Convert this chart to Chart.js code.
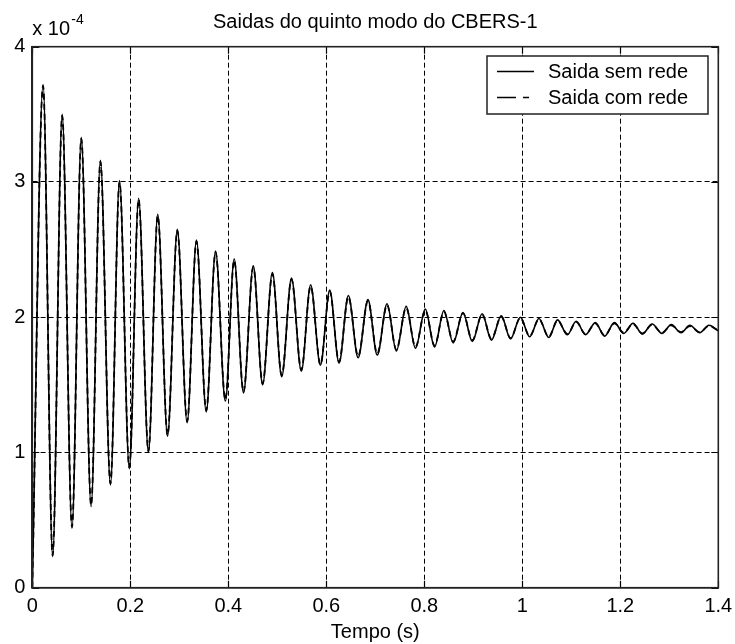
<!DOCTYPE html>
<html><head><meta charset="utf-8">
<script src="https://cdn.jsdelivr.net/npm/chart.js@4.4.1/dist/chart.umd.min.js"></script>
<style>html,body{margin:0;padding:0;background:#fff;}#wrap{width:735px;height:644px;}</style>
</head><body><div id="wrap"><canvas id="c" width="735" height="644"></canvas></div>
<script>
// Time instants (s): start, then alternating peaks and troughs, end
const tempos = [0, 0.022, 0.0415, 0.061, 0.081, 0.100, 0.120, 0.139, 0.1595, 0.178, 0.198,
  0.217, 0.237, 0.256, 0.276, 0.296, 0.316, 0.335, 0.355, 0.374, 0.394,
  0.412, 0.431, 0.451, 0.470, 0.490, 0.509, 0.529, 0.549, 0.568, 0.588,
  0.607, 0.626, 0.645, 0.665, 0.685, 0.704, 0.724, 0.743, 0.763, 0.782,
  0.802, 0.821, 0.840, 0.859, 0.879, 0.898, 0.918, 0.937, 0.957, 0.976,
  0.996, 1.015, 1.034, 1.054, 1.072, 1.092, 1.110, 1.129, 1.149, 1.168,
  1.188, 1.207, 1.226, 1.245, 1.265, 1.285, 1.304, 1.324, 1.342, 1.362,
  1.381, 1.4];
// Output values (x 10^-4)
const saidaSemRede = [0, 3.72, 0.23, 3.50, 0.44, 3.33, 0.60, 3.16, 0.76, 3.01, 0.88,
  2.88, 1.00, 2.76, 1.12, 2.65, 1.22, 2.57, 1.30, 2.49, 1.38,
  2.43, 1.44, 2.38, 1.50, 2.33, 1.56, 2.29, 1.60, 2.24, 1.645,
  2.20, 1.66, 2.16, 1.70, 2.13, 1.72, 2.10, 1.75, 2.08, 1.77,
  2.06, 1.78, 2.05, 1.81, 2.035, 1.82, 2.025, 1.83, 2.01, 1.84,
  2.00, 1.855, 1.99, 1.85, 1.98, 1.87, 1.97, 1.87, 1.96, 1.86,
  1.96, 1.88, 1.955, 1.875, 1.95, 1.88, 1.945, 1.885, 1.94, 1.885,
  1.94, 1.90];
const saidaComRede = [0, 3.71, 0.24, 3.49, 0.45, 3.32, 0.61, 3.15, 0.77, 3.00, 0.89,
  2.87, 1.01, 2.75, 1.13, 2.64, 1.23, 2.56, 1.31, 2.48, 1.39,
  2.42, 1.45, 2.37, 1.51, 2.32, 1.57, 2.28, 1.61, 2.23, 1.65,
  2.19, 1.67, 2.15, 1.71, 2.12, 1.73, 2.09, 1.76, 2.07, 1.78,
  2.05, 1.79, 2.04, 1.82, 2.03, 1.83, 2.02, 1.84, 2.005, 1.845,
  1.995, 1.86, 1.985, 1.855, 1.975, 1.875, 1.965, 1.875, 1.955, 1.865,
  1.955, 1.885, 1.95, 1.88, 1.945, 1.885, 1.94, 1.89, 1.935, 1.89,
  1.935, 1.90];
const xTickLabels = ['0', '0.2', '0.4', '0.6', '0.8', '1', '1.2', '1.4'];
const yTickLabels = ['0', '1', '2', '3', '4'];
const seriesNames = ['Saida sem rede', 'Saida com rede'];
const chartTitle = 'Saidas do quinto modo do CBERS-1';
const xTitle = 'Tempo (s)';

const FONT = 'Liberation Sans, Arial, Helvetica, sans-serif';

const framePlugin = {
  id: 'matlabFrame',
  afterDraw(chart) {
    const ctx = chart.ctx;
    const a = chart.chartArea;
    const xs = chart.scales.x, ys = chart.scales.y;
    ctx.save();
    // inward ticks
    ctx.strokeStyle = '#000';
    ctx.lineWidth = 1.2;
    ctx.setLineDash([]);
    ctx.beginPath();
    xTickLabels.forEach(l => {
      const px = Math.round(xs.getPixelForValue(parseFloat(l))) + 0.5;
      ctx.moveTo(px, a.bottom); ctx.lineTo(px, a.bottom - 7);
      ctx.moveTo(px, a.top); ctx.lineTo(px, a.top + 7);
    });
    yTickLabels.forEach(l => {
      const py = Math.round(ys.getPixelForValue(parseFloat(l))) + 0.5;
      ctx.moveTo(a.left, py); ctx.lineTo(a.left + 7, py);
      ctx.moveTo(a.right, py); ctx.lineTo(a.right - 7, py);
    });
    ctx.stroke();
    // frame
    ctx.lineWidth = 1.6;
    ctx.strokeStyle = '#222';
    ctx.strokeRect(a.left, a.top, a.right - a.left, a.bottom - a.top);
    // title
    ctx.fillStyle = '#000';
    ctx.font = '20px ' + FONT;
    ctx.textAlign = 'center';
    ctx.textBaseline = 'alphabetic';
    ctx.fillText(chartTitle, (a.left + a.right) / 2, 28);
    // exponent label
    ctx.textAlign = 'left';
    ctx.fillText('x 10', a.left, 35);
    ctx.font = '14px ' + FONT;
    ctx.fillText('-4', a.left + 39, 24);
    // legend
    const lx = 487, ly = 56, lw = 221, lh = 58;
    ctx.fillStyle = '#fff';
    ctx.fillRect(lx, ly, lw, lh);
    ctx.lineWidth = 1.5;
    ctx.strokeStyle = '#222';
    ctx.strokeRect(lx, ly, lw, lh);
    ctx.strokeStyle = '#000';
    ctx.lineWidth = 1.6;
    ctx.beginPath(); ctx.moveTo(497, 71.5); ctx.lineTo(534, 71.5); ctx.stroke();
    ctx.setLineDash([19, 7]);
    ctx.beginPath(); ctx.moveTo(497, 97.5); ctx.lineTo(529, 97.5); ctx.stroke();
    ctx.setLineDash([]);
    ctx.fillStyle = '#000';
    ctx.font = '20px ' + FONT;
    ctx.fillText(seriesNames[0], 548, 78);
    ctx.fillText(seriesNames[1], 548, 104);
    ctx.restore();
  }
};

const mk = arr => tempos.map((t, i) => ({x: t, y: arr[i]}));

new Chart(document.getElementById('c'), {
  type: 'line',
  data: {
    datasets: [
      {label: seriesNames[0], data: mk(saidaSemRede), borderColor: '#000', borderWidth: 1.6,
       pointRadius: 0, cubicInterpolationMode: 'monotone', fill: false},
      {label: seriesNames[1], data: mk(saidaComRede), borderColor: '#000', borderWidth: 1.8,
       borderDash: [6, 4], pointRadius: 0, cubicInterpolationMode: 'monotone', fill: false}
    ]
  },
  options: {
    responsive: false,
    animation: false,
    devicePixelRatio: 1,
    layout: {padding: {top: 46.7, right: 16.7, left: 0, bottom: 0}},
    plugins: {legend: {display: false}, title: {display: false}, tooltip: {enabled: false}},
    scales: {
      x: {
        type: 'linear', min: 0, max: 1.4,
        afterBuildTicks: s => { s.ticks = xTickLabels.map(l => ({value: parseFloat(l)})); },
        afterFit: s => { s.height = 56.3; s.paddingLeft = 0; s.paddingRight = 0; },
        ticks: {
          autoSkip: false, maxRotation: 0, padding: 7, color: '#000',
          font: {family: FONT, size: 20},
          callback: (v) => xTickLabels.find(l => Math.abs(parseFloat(l) - v) < 1e-9)
        },
        grid: {color: '#000', lineWidth: 1, drawTicks: false},
        border: {display: true, color: '#222', width: 1.6, dash: [5, 3]},
        title: {display: true, text: xTitle, color: '#000', font: {family: FONT, size: 20},
                padding: {top: 0, bottom: 0}}
      },
      y: {
        type: 'linear', min: 0, max: 4,
        afterBuildTicks: s => { s.ticks = yTickLabels.map(l => ({value: parseFloat(l)})); },
        afterFit: s => { s.width = 32.3; s.paddingTop = 0; s.paddingBottom = 0; },
        ticks: {
          padding: 7, color: '#000', font: {family: FONT, size: 20},
          callback: (v) => yTickLabels.find(l => Math.abs(parseFloat(l) - v) < 1e-9)
        },
        grid: {color: '#000', lineWidth: 1, drawTicks: false},
        border: {display: true, color: '#222', width: 1.6, dash: [5, 3]}
      }
    }
  },
  plugins: [framePlugin]
});
</script>
</body></html>
